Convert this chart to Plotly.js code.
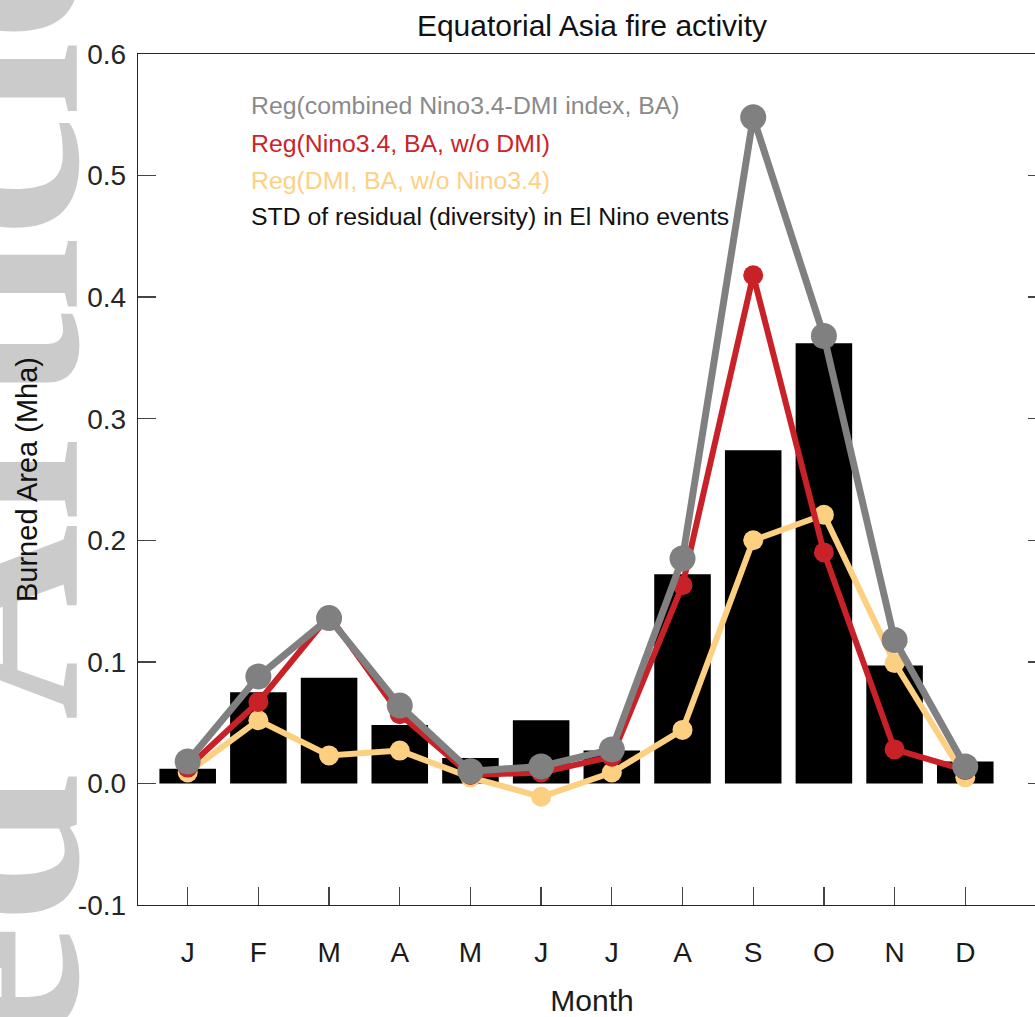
<!DOCTYPE html>
<html>
<head>
<meta charset="utf-8">
<script src="https://cdn.plot.ly/plotly-3.0.1.min.js"></script>
<style>
  html, body { margin:0; padding:0; background:#ffffff; overflow:hidden; width:1035px; height:1017px; }
  #wm { position:absolute; left:-150px; top:-80px; width:0; height:0; z-index:0; }
  #wm span { position:absolute; right:0; top:0; transform-origin:right top; transform:rotate(-90deg);
             white-space:nowrap; font-family:'Liberation Serif', serif; font-weight:bold; font-size:272px; line-height:1; color:#cbcbcb; }
  #chart { position:absolute; left:0; top:0; z-index:1; }
</style>
</head>
<body>
<div id="wm"><span>Accepted Article</span></div>
<div id="chart"></div>
<script>
// ---- data ----
const months = ['J','F','M','A','M','J','J','A','S','O','N','D'];
const stdResidual = [0.012, 0.075, 0.087, 0.048, 0.021, 0.052, 0.027, 0.172, 0.274, 0.362, 0.097, 0.018];
const regCombined = [0.018, 0.088, 0.136, 0.064, 0.010, 0.014, 0.028, 0.185, 0.548, 0.368, 0.118, 0.014];
const regNino     = [0.013, 0.067, 0.138, 0.057, 0.007, 0.009, 0.022, 0.163, 0.418, 0.190, 0.028, 0.011];
const regDMI      = [0.009, 0.052, 0.023, 0.027, 0.005, -0.011, 0.009, 0.044, 0.200, 0.221, 0.099, 0.005];
const yTickVals = [-0.1, 0.0, 0.1, 0.2, 0.3, 0.4, 0.5, 0.6];
const yTickText = ['-0.1', '0.0', '0.1', '0.2', '0.3', '0.4', '0.5', '0.6'];
const legendLabels = [
  'Reg(combined Nino3.4-DMI index, BA)',
  'Reg(Nino3.4, BA, w/o DMI)',
  'Reg(DMI, BA, w/o Nino3.4)',
  'STD of residual (diversity) in El Nino events'
];

const monthIdx = months.map((m, i) => i + 1);

const FONT = 'Liberation Sans, Arial, Helvetica, sans-serif';
const cGray = '#808080', cRed = '#c82127', cYellow = '#fdcf80';

const traces = [
  { type:'bar', x: monthIdx, y: stdResidual, width: 0.8, marker:{ color:'#000000', line:{width:0} }, hoverinfo:'y' },
  { type:'scatter', mode:'lines+markers', x: monthIdx, y: regDMI,
    line:{ color:cYellow, width:6 }, marker:{ color:cYellow, size:20 } },
  { type:'scatter', mode:'lines+markers', x: monthIdx, y: regNino,
    line:{ color:cRed, width:6 }, marker:{ color:cRed, size:20 } },
  { type:'scatter', mode:'lines+markers', x: monthIdx, y: regCombined,
    line:{ color:cGray, width:7 }, marker:{ color:cGray, size:26 } }
];

const W = 1050, H = 1017;
const mL = 138, mR = 4, mT = 54, mB = 112;
const plotH = H - mT - mB;
function py(pix) { return (H - mB - pix) / plotH; }
function px(pix) { return (pix - mL) / (W - mL - mR); }

const legendColors = ['#8a8a8a', '#cc2229', '#fdd086', '#111111'];
const legendY = [105, 143, 180, 216];
const annotations = legendLabels.map((t, i) => ({
  text: t, xref:'paper', yref:'paper', x: px(249), y: py(legendY[i]),
  xanchor:'left', yanchor:'middle', showarrow:false,
  font:{ family: FONT, size:24.8, color: legendColors[i] }
}));

const layout = {
  width: W, height: H,
  margin: { l:mL, r:mR, t:mT, b:mB, pad:0 },
  paper_bgcolor:'rgba(0,0,0,0)', plot_bgcolor:'rgba(0,0,0,0)',
  showlegend:false,
  font:{ family: FONT, color:'#262626' },
  title:{ text:'Equatorial Asia fire activity', xref:'paper', x:0.5, xanchor:'center',
          yref:'container', y: 1 - 25/H, yanchor:'middle',
          font:{ family: FONT, size:30, color:'#111111' } },
  xaxis:{
    range:[0.297, 13.142], tickvals: monthIdx, ticktext: months,
    ticks:'inside', ticklen:18, tickwidth:1.3, tickcolor:'#444444',
    showline:true, linecolor:'#262626', linewidth:1.3, mirror:true,
    showgrid:false, zeroline:false,
    tickfont:{ family: FONT, size:28, color:'#1a1a1a' }, ticklabelstandoff: 22,
    title:{ text:'Month', font:{ family: FONT, size:30, color:'#1a1a1a' }, standoff: 24 }
  },
  yaxis:{
    range:[-0.1, 0.6], tickvals: yTickVals, ticktext: yTickText,
    ticks:'inside', ticklen:18, tickwidth:1.3, tickcolor:'#444444',
    showline:true, linecolor:'#262626', linewidth:1.3, mirror:'ticks',
    showgrid:false, zeroline:false,
    tickfont:{ family: FONT, size:28, color:'#262626' }, ticklabelstandoff: 5,
    title:{ text:'Burned Area (Mha)', font:{ family: FONT, size:29, color:'#111111' }, standoff: 31 }
  },
  annotations: annotations,
  bargap: 0.2
};

Plotly.newPlot('chart', traces, layout, { displayModeBar:false, staticPlot:true });
</script>
</body>
</html>
